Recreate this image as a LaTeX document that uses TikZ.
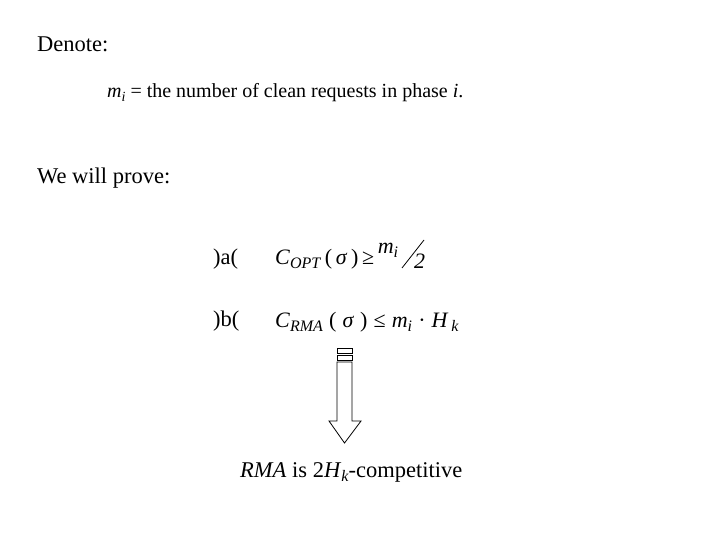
\documentclass[tikz,border=0pt]{standalone}
\usepackage{fontspec}
\setmainfont{Liberation Serif}
\begin{document}
\begin{tikzpicture}[x=1pt,y=-1pt,txt/.style={anchor=base west,inner sep=0pt,font=\fontsize{22.5}{26}\selectfont},
mth/.style={anchor=base west,inner sep=0pt,font=\fontsize{22}{26}\selectfont},
arr/.style={draw=black,fill=white,line width=0.8pt}]
\useasboundingbox (0,0) rectangle (720,540);
\node[txt] (d) at (37,52) {Denote:};
\node[txt,font=\fontsize{20}{24}\selectfont] (m) at (107,98) {\textit{m}\raisebox{-4pt}{\fontsize{14}{16}\selectfont\textit{i}} = the number of clean requests in phase \textit{i}.};
\node[txt] (w) at (37,184) {We will prove:};
\node[txt] (a) at (213,264) {)a(};
\node[txt] (b) at (213,326) {)b(};
\node[mth] (ea) at (275,264) {\textit{C}\raisebox{-4pt}{\fontsize{16}{18}\selectfont\textit{OPT}}\,(\,\textit{σ}\,)\,≥\,\raisebox{10pt}{\textit{m}\raisebox{-3pt}{\fontsize{16}{18}\selectfont\textit{i}}}};
\draw[line width=0.8pt] (402,268) -- (424,240);
\node[mth] (two) at (414,268) {\textit{2}};
\node[mth] (eb) at (275,327) {\textit{C}\raisebox{-4pt}{\fontsize{16}{18}\selectfont\textit{RMA}}\;(\;\textit{σ}\;)\;≤\;\textit{m}\raisebox{-4pt}{\fontsize{16}{18}\selectfont\textit{i}}\;·\;\textit{H}\raisebox{-4pt}{\fontsize{16}{18}\selectfont\,\textit{k}}};
\draw[arr] (337,348) rectangle (352,353);
\draw[arr] (337,355) rectangle (352,360);
\draw[arr] (337,362) -- (352,362) -- (352,421) -- (361,421) -- (344.5,443) -- (329,421) -- (337,421) -- cycle;
\node[txt] (r) at (240,477) {\textit{RMA} is 2\textit{H}\raisebox{-4pt}{\fontsize{16}{18}\selectfont\textit{k}}-competitive};
\end{tikzpicture}
\end{document}
